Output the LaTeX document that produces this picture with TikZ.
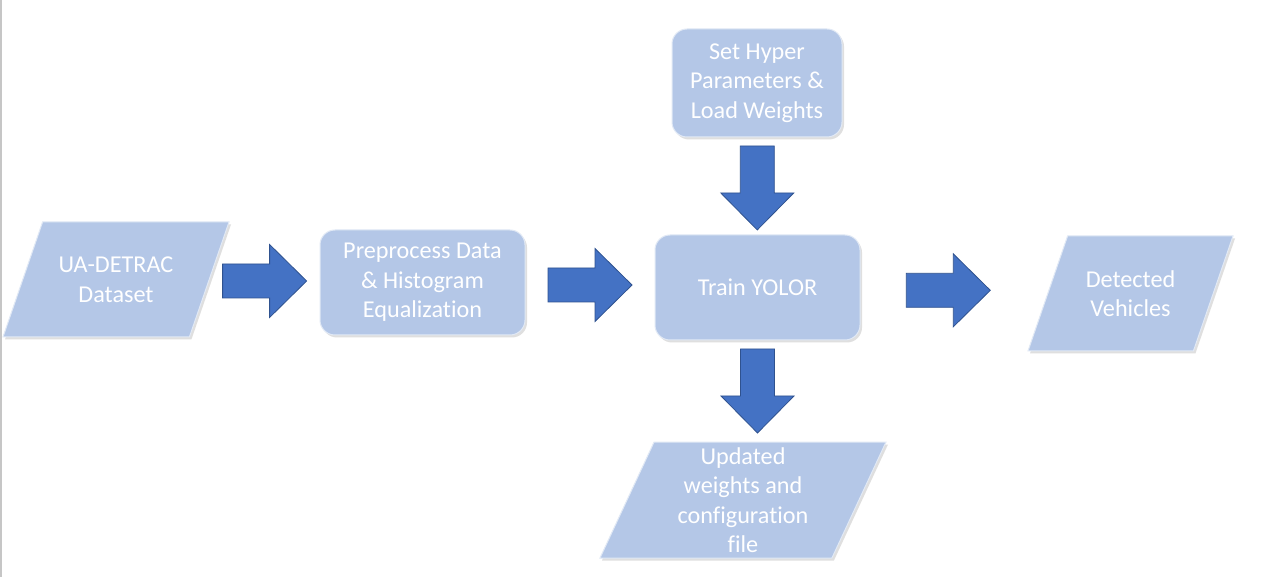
\documentclass[tikz,border=0pt]{standalone}
\usepackage{fontspec}
\setmainfont[Ligatures=NoCommon]{Carlito}
\usepackage{tikz}
\usetikzlibrary{shapes.geometric, shadows, calc}

\definecolor{boxblue}{HTML}{B4C7E7}
\definecolor{arrowblue}{HTML}{4472C4}
\definecolor{arrowedge}{HTML}{2F528F}

\begin{document}
\begin{tikzpicture}[x=1pt, y=-1pt,
  every node/.style={text=white, font=\fontsize{24.2}{29.5}\selectfont, align=center, inner sep=0pt},
  box/.style={rectangle, rounded corners=15pt, fill=boxblue, draw=boxblue!40!white, line width=1pt,
    drop shadow={shadow xshift=2pt, shadow yshift=-2.5pt, opacity=0.25}},
  io/.style={trapezium, trapezium left angle=71, trapezium right angle=109, trapezium stretches body,
    fill=boxblue, draw=boxblue!40!white, line width=1pt,
    drop shadow={shadow xshift=2pt, shadow yshift=-2.5pt, opacity=0.25},
    execute at begin node={\begin{minipage}[c][#1][c]{150pt}\centering},
    execute at end node={\end{minipage}}},
  io/.default=115pt,
  pics/blockarrow/.style={code={
    \draw[fill=arrowblue, draw=arrowedge, line width=0.8pt] (-42,-17) -- (5,-17) -- (5,-36.5) -- (42,0)
      -- (5,36.5) -- (5,17) -- (-42,17) -- cycle;}}
]
\useasboundingbox[fill=white] (0,0) rectangle (1280,577);
\draw[gray!45, line width=1.5pt] (0.75,0) -- (0.75,577);

\node[io, minimum width=226pt] (data) at (116,279.5) {UA-DETRAC\\Dataset};
\node[box, minimum width=205pt, minimum height=105pt] (prep) at (422.5,282.5) {Preprocess Data\\\& Histogram\\Equalization};
\node[box, minimum width=205pt, minimum height=105pt] (train) at (757.5,287.5) {Train YOLOR};
\node[box, minimum width=170pt, minimum height=108pt] (hyper) at (757,83) {Set Hyper\\Parameters \&\\Load Weights};
\node[io, minimum width=205pt] (out) at (1130.5,293.5) {Detected\\Vehicles};
\node[io=116pt, trapezium left angle=65, trapezium right angle=115, minimum width=286pt] (upd) at (743,500) {Updated\\weights and\\configuration\\file};

\pic at ($(data.east)!0.5!(prep.west)$) {blockarrow};
\pic at ($(prep.east)!0.5!(train.west)$) {blockarrow};
\pic at ($(train.east)!0.47!(out.west)$) {blockarrow};
\pic[rotate=-90] at ($(hyper.south)!0.52!(train.north)$) {blockarrow};
\pic[rotate=-90] at ($(train.south)!0.5!(train.south |- upd.north)$) {blockarrow};
\end{tikzpicture}
\end{document}
